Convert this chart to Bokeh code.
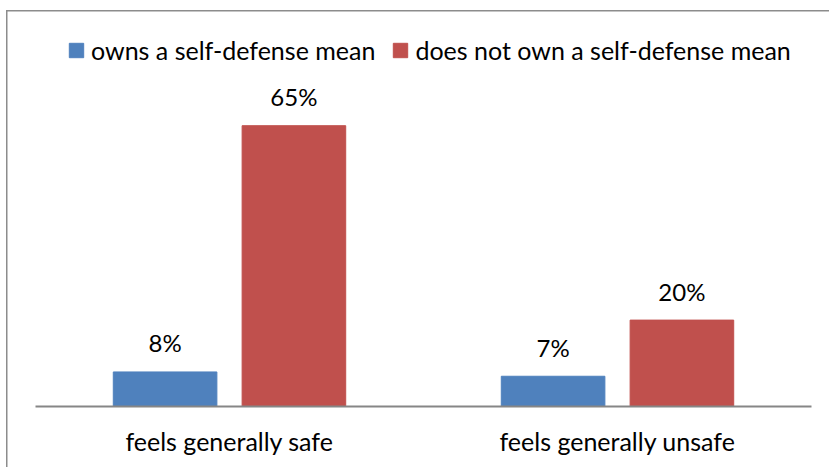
from bokeh.plotting import figure
from bokeh.models import (ColumnDataSource, FactorRange, Range1d, Legend,
                          LegendItem)
from bokeh.transform import dodge
from bokeh.core.properties import value
from bokeh.embed import file_html
from bokeh.resources import INLINE

# Data
categories = ["feels generally safe", "feels generally unsafe"]
series = ["owns a self-defense mean", "does not own a self-defense mean"]
owns = [8, 7]
not_owns = [65, 20]
colors = ["#4F81BD", "#C0504D"]

FONT = "Lato"
FS_TEXT = "25px"
FS_VAL = "24px"

# layout (pixels)
W, H = 829, 467
TOP, BOTTOM, LEFT, RIGHT = 30, 61, 35, 18
PX_PER_PCT = 4.32
y_top = (H - TOP - BOTTOM) / PX_PER_PCT

src = ColumnDataSource(dict(
    cat=categories,
    owns=owns,
    not_owns=not_owns,
    owns_lbl=[f"{v}%" for v in owns],
    not_owns_lbl=[f"{v}%" for v in not_owns],
))

p = figure(width=W, height=H,
           x_range=FactorRange(*categories, range_padding=0),
           y_range=Range1d(0, y_top),
           output_backend="svg", toolbar_location=None,
           y_axis_location=None,
           min_border_left=LEFT, min_border_right=RIGHT,
           min_border_top=TOP, min_border_bottom=BOTTOM)
p.outline_line_color = None
p.xgrid.visible = False
p.ygrid.visible = False
p.background_fill_color = "white"
p.border_fill_color = None

# thin grey chart border along the left and top edges
p.styles = {"box-shadow": "inset 6px 10px 0 0 white, inset 7.5px 11.5px 0 0 #8c8c8c"}

BW = 0.267
OFF = 0.166
r1 = p.vbar(x=dodge("cat", -OFF, range=p.x_range), top="owns", width=BW,
            source=src, fill_color=colors[0], line_color=colors[0])
r2 = p.vbar(x=dodge("cat", OFF, range=p.x_range), top="not_owns", width=BW,
            source=src, fill_color=colors[1], line_color=colors[1])

# value labels above bars
for off, col, lbl in [(-OFF, "owns", "owns_lbl"), (OFF, "not_owns", "not_owns_lbl")]:
    p.text(x=dodge("cat", off, range=p.x_range), y=col, text=lbl, source=src,
           y_offset=-29, text_align="center", text_baseline="alphabetic",
           text_font=value(FONT), text_font_size=FS_VAL, text_color="black")

ax = p.xaxis[0]
ax.axis_line_color = "#868686"
ax.axis_line_width = 2
ax.major_tick_line_color = None
ax.minor_tick_line_color = None
ax.major_label_text_font = FONT
ax.major_label_text_font_size = FS_TEXT
ax.major_label_text_color = "black"
ax.major_label_standoff = 13

legend = Legend(items=[LegendItem(label=series[0], renderers=[r1]),
                       LegendItem(label=series[1], renderers=[r2])],
                orientation="horizontal", location=(32, 341),
                glyph_width=18, glyph_height=18, label_standoff=6,
                spacing=16, padding=0, margin=0,
                border_line_color=None, background_fill_alpha=0,
                label_text_font=FONT, label_text_font_size=FS_TEXT,
                label_text_color="black")
p.add_layout(legend, "center")

open("out.html", "w").write(file_html(p, INLINE))
